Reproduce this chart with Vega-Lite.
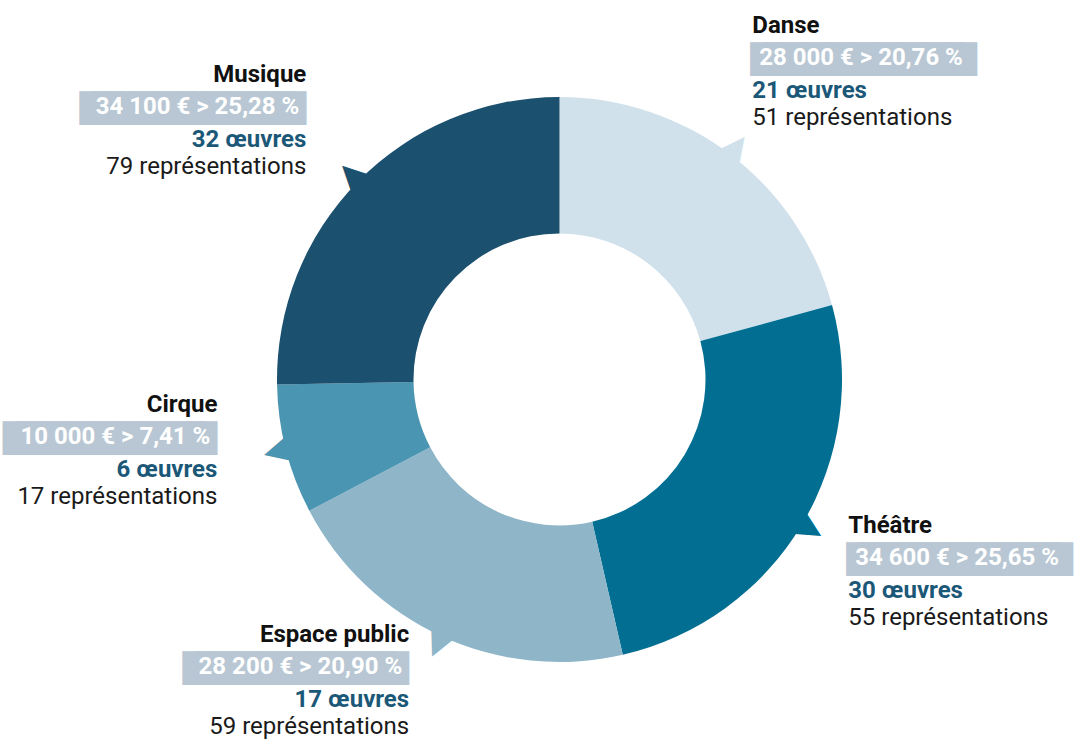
{
  "$schema": "https://vega.github.io/schema/vega-lite/v6.json",
  "width": 1031,
  "height": 725,
  "autosize": "none",
  "padding": {"left": 44, "top": 17, "right": 0, "bottom": 0},
  "background": "white",
  "config": {"view": {"stroke": null}, "text": {"font": "Roboto"}},
  "data": {
    "values": [
      {"discipline": "Danse", "ordre": 1, "montant": 28000, "oeuvres": 21, "representations": 51},
      {"discipline": "Théâtre", "ordre": 2, "montant": 34600, "oeuvres": 30, "representations": 55},
      {"discipline": "Espace public", "ordre": 3, "montant": 28200, "oeuvres": 17, "representations": 59},
      {"discipline": "Cirque", "ordre": 4, "montant": 10000, "oeuvres": 6, "representations": 17},
      {"discipline": "Musique", "ordre": 5, "montant": 34100, "oeuvres": 32, "representations": 79}
    ]
  },
  "transform": [
    {"joinaggregate": [{"op": "sum", "field": "montant", "as": "total"}]},
    {"window": [{"op": "sum", "field": "montant", "as": "cumul"}], "sort": [{"field": "ordre"}], "frame": [null, 0]},
    {"calculate": "(datum.cumul - datum.montant / 2) / datum.total * 360", "as": "milieu"},
    {"calculate": "replace(format(datum.montant, ','), ',', ' ') + ' € > ' + replace(format(datum.montant / datum.total * 100, '.2f'), '.', ',') + ' %'", "as": "ligne_montant"},
    {"calculate": "pad('', length(datum.ligne_montant), '█')", "as": "fond"},
    {"calculate": "datum.oeuvres + ' œuvres'", "as": "ligne_oeuvres"},
    {"calculate": "datum.representations + ' représentations'", "as": "ligne_repr"},
    {"calculate": "datum.milieu < 180 ? 'droite' : 'gauche'", "as": "cote"}
  ],
  "layer": [
    {
      "mark": {"type": "arc", "outerRadius": 282.5, "innerRadius": 146},
      "encoding": {
        "theta": {"field": "montant", "type": "quantitative", "stack": true},
        "order": {"field": "ordre", "type": "quantitative"},
        "color": {"field": "discipline", "type": "nominal", "legend": null,
          "scale": {"domain": ["Danse", "Théâtre", "Espace public", "Cirque", "Musique"], "range": ["#d0e1ec", "#026f92", "#8eb5c8", "#4a95b1", "#1b506e"]}}
      }
    },
    {
      "mark": {"type": "text", "text": "▲", "font": "DejaVu Sans", "fontSize": 42, "radius": 278, "align": "center", "baseline": "alphabetic"},
      "encoding": {
        "theta": {"field": "milieu", "type": "quantitative", "stack": null, "scale": {"domain": [0, 360], "range": [0, 6.283185307179586], "nice": false}},
        "angle": {"field": "milieu", "type": "quantitative", "scale": {"domain": [0, 360], "range": [0, 360], "nice": false}},
        "color": {"field": "discipline", "type": "nominal", "legend": null,
          "scale": {"domain": ["Danse", "Théâtre", "Espace public", "Cirque", "Musique"], "range": ["#d0e1ec", "#026f92", "#8eb5c8", "#4a95b1", "#1b506e"]}}
      }
    },
    {
      "transform": [{"filter": "datum.cote === 'droite'"}],
      "mark": {"type": "text", "radius": 382, "align": "left", "baseline": "alphabetic", "dx": -39, "dy": -43, "fontSize": 24, "fontWeight": "bold", "color": "#111111"},
      "encoding": {
        "theta": {"field": "milieu", "type": "quantitative", "stack": null, "scale": {"domain": [0, 360], "range": [0, 6.283185307179586], "nice": false}},
        "text": {"field": "discipline"}
      }
    },
    {
      "transform": [{"filter": "datum.cote === 'droite'"}],
      "mark": {"type": "text", "radius": 382, "align": "left", "baseline": "alphabetic", "dx": -36, "dy": -10, "font": "DejaVu Sans Mono", "fontSize": 20, "color": "#b8c7d3", "stroke": "#b8c7d3", "strokeWidth": 10, "strokeJoin": "miter"},
      "encoding": {
        "theta": {"field": "milieu", "type": "quantitative", "stack": null, "scale": {"domain": [0, 360], "range": [0, 6.283185307179586], "nice": false}},
        "text": {"field": "fond"}
      }
    },
    {
      "transform": [{"filter": "datum.cote === 'droite'"}],
      "mark": {"type": "text", "radius": 382, "align": "left", "baseline": "alphabetic", "dx": -32, "dy": -11, "fontSize": 24, "fontWeight": "bold", "color": "#ffffff"},
      "encoding": {
        "theta": {"field": "milieu", "type": "quantitative", "stack": null, "scale": {"domain": [0, 360], "range": [0, 6.283185307179586], "nice": false}},
        "text": {"field": "ligne_montant"}
      }
    },
    {
      "transform": [{"filter": "datum.cote === 'droite'"}],
      "mark": {"type": "text", "radius": 382, "align": "left", "baseline": "alphabetic", "dx": -39, "dy": 22, "fontSize": 24, "fontWeight": "bold", "color": "#1b5878"},
      "encoding": {
        "theta": {"field": "milieu", "type": "quantitative", "stack": null, "scale": {"domain": [0, 360], "range": [0, 6.283185307179586], "nice": false}},
        "text": {"field": "ligne_oeuvres"}
      }
    },
    {
      "transform": [{"filter": "datum.cote === 'droite'"}],
      "mark": {"type": "text", "radius": 382, "align": "left", "baseline": "alphabetic", "dx": -39, "dy": 49, "fontSize": 24, "color": "#1a1a1a"},
      "encoding": {
        "theta": {"field": "milieu", "type": "quantitative", "stack": null, "scale": {"domain": [0, 360], "range": [0, 6.283185307179586], "nice": false}},
        "text": {"field": "ligne_repr"}
      }
    },
    {
      "transform": [{"filter": "datum.cote === 'gauche'"}],
      "mark": {"type": "text", "radius": 348, "align": "right", "baseline": "alphabetic", "dx": -5, "dy": -54, "fontSize": 24, "fontWeight": "bold", "color": "#111111"},
      "encoding": {
        "theta": {"field": "milieu", "type": "quantitative", "stack": null, "scale": {"domain": [0, 360], "range": [0, 6.283185307179586], "nice": false}},
        "text": {"field": "discipline"}
      }
    },
    {
      "transform": [{"filter": "datum.cote === 'gauche'"}],
      "mark": {"type": "text", "radius": 348, "align": "right", "baseline": "alphabetic", "dx": -10, "dy": -21, "font": "DejaVu Sans Mono", "fontSize": 20, "color": "#b8c7d3", "stroke": "#b8c7d3", "strokeWidth": 10, "strokeJoin": "miter"},
      "encoding": {
        "theta": {"field": "milieu", "type": "quantitative", "stack": null, "scale": {"domain": [0, 360], "range": [0, 6.283185307179586], "nice": false}},
        "text": {"field": "fond"}
      }
    },
    {
      "transform": [{"filter": "datum.cote === 'gauche'"}],
      "mark": {"type": "text", "radius": 348, "align": "right", "baseline": "alphabetic", "dx": -12, "dy": -22, "fontSize": 24, "fontWeight": "bold", "color": "#ffffff"},
      "encoding": {
        "theta": {"field": "milieu", "type": "quantitative", "stack": null, "scale": {"domain": [0, 360], "range": [0, 6.283185307179586], "nice": false}},
        "text": {"field": "ligne_montant"}
      }
    },
    {
      "transform": [{"filter": "datum.cote === 'gauche'"}],
      "mark": {"type": "text", "radius": 348, "align": "right", "baseline": "alphabetic", "dx": -5, "dy": 11, "fontSize": 24, "fontWeight": "bold", "color": "#1b5878"},
      "encoding": {
        "theta": {"field": "milieu", "type": "quantitative", "stack": null, "scale": {"domain": [0, 360], "range": [0, 6.283185307179586], "nice": false}},
        "text": {"field": "ligne_oeuvres"}
      }
    },
    {
      "transform": [{"filter": "datum.cote === 'gauche'"}],
      "mark": {"type": "text", "radius": 348, "align": "right", "baseline": "alphabetic", "dx": -5, "dy": 38, "fontSize": 24, "color": "#1a1a1a"},
      "encoding": {
        "theta": {"field": "milieu", "type": "quantitative", "stack": null, "scale": {"domain": [0, 360], "range": [0, 6.283185307179586], "nice": false}},
        "text": {"field": "ligne_repr"}
      }
    }
  ],
  "resolve": {"scale": {"theta": "independent"}}
}
